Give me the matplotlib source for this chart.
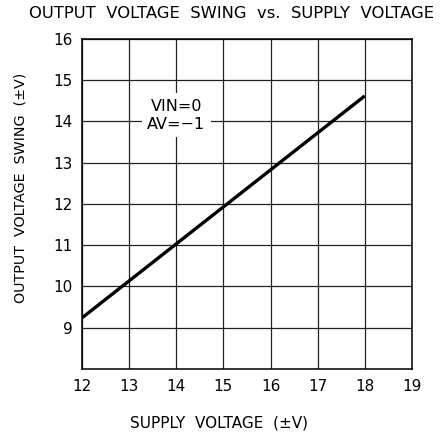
import matplotlib
matplotlib.use("Agg")
import matplotlib.pyplot as plt

supply_v = [12, 18]
swing_v = [9.24, 14.62]
xticks = [12, 13, 14, 15, 16, 17, 18, 19]
yticks = [9, 10, 11, 12, 13, 14, 15, 16]

plt.rcParams['font.family'] = 'DejaVu Sans'

fig = plt.figure(figsize=(4.41, 4.36), dpi=100)
ax = fig.add_axes([0.186, 0.1537, 0.748, 0.7569])

ax.plot(supply_v, swing_v, color="black", lw=2.4, solid_capstyle="butt", zorder=3)

ax.set_xlim(12, 19)
ax.set_ylim(8, 16)
ax.set_xticks(xticks)
ax.set_yticks(yticks)
ax.grid(True, color="#222222", lw=0.9)
ax.tick_params(length=0, pad=7, labelsize=11)
for s in ax.spines.values():
    s.set_linewidth(1.1)

ax.text(14, 14.15, "VIN=0\nAV=\u22121", ha="center", va="center", fontsize=11.5,
        linespacing=1.25, bbox=dict(facecolor="white", edgecolor="none", pad=4), zorder=4)

ax.set_xlabel("SUPPLY  VOLTAGE  (\u00b1V)", fontsize=11)
ax.xaxis.set_label_coords(0.415, -0.14)
ax.set_ylabel("OUTPUT  VOLTAGE  SWING  (\u00b1V)", fontsize=10.3)
ax.yaxis.set_label_coords(-0.164, 0.55)

fig.text(0.526, 0.968, "OUTPUT  VOLTAGE  SWING  vs.  SUPPLY  VOLTAGE", ha="center", va="center", fontsize=11.8)

fig.savefig("out.png", dpi=100)
